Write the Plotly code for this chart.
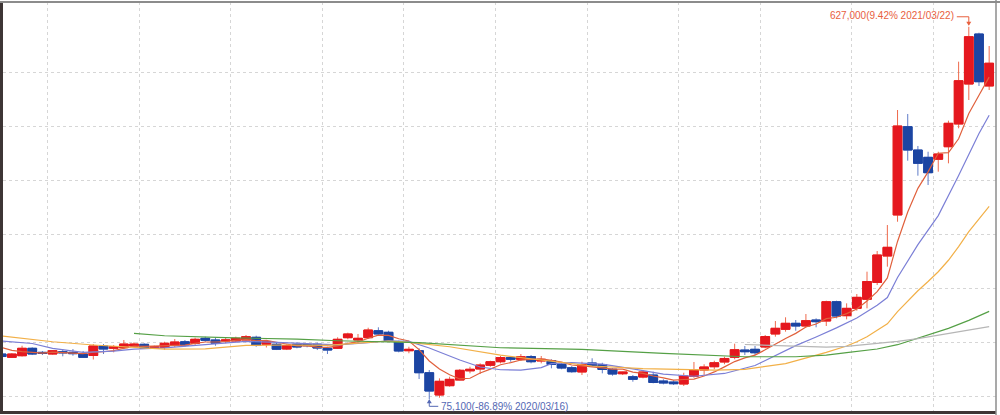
import pandas as pd
import plotly.graph_objects as go

# ---- data (weekly candles) ----
start_date = "2019-05-27"
n_weeks = 98
dates = pd.date_range(start_date, periods=n_weeks, freq="7D")

open_ = [142200, 137300, 139700, 150700, 144700, 142200, 145600, 144700, 142200, 140000,
         154100, 150700, 151600, 154100, 156600, 150700, 151900, 155600, 160400, 158100,
         165500, 163000, 161500, 161500, 163000, 167000, 156600, 156700, 149600, 156700,
         156300, 156700, 150700, 150700, 166400, 163000, 166400, 176700, 174400, 159600,
         147100, 147100, 114500, 81500, 95300, 103700, 117300, 120000, 125500, 130800,
         137000, 134400, 138500, 131900, 132300, 127000, 121900, 115600, 128900, 126700,
         119600, 113000, 108600, 108100, 111100, 102200, 100700, 97800, 109200, 118500,
         123400, 130400, 137300, 148100, 149200, 152600, 171900, 178800, 187700, 183700,
         192600, 191100, 219700, 199000, 209900, 223300, 248200, 287400, 348200, 479000,
         444400, 433600, 430700, 449300, 483000, 542200, 616300, 539300]
high = [143700, 143700, 154500, 152100, 146700, 148100, 149600, 149600, 146700, 157000,
        157000, 155600, 163000, 159600, 158100, 154500, 160400, 164400, 163000, 166400,
        167900, 166400, 166400, 167900, 170400, 169300, 163000, 159000, 156600, 159600,
        158100, 159000, 153000, 167000, 173800, 171900, 181200, 181800, 176700, 161900,
        153000, 150700, 118500, 106200, 108600, 120000, 123400, 128400, 132300, 139300,
        139300, 142200, 140700, 139300, 134400, 129300, 124400, 130800, 135900, 129300,
        121000, 116000, 111100, 118500, 116000, 104700, 103300, 114500, 130400, 127000,
        132300, 138200, 157500, 154100, 154100, 170400, 191100, 196600, 192600, 201500,
        195100, 221200, 221200, 217300, 231100, 264200, 294800, 333300, 503700, 497800,
        450400, 441900, 441900, 487900, 575300, 627000, 618200, 598500]
low = [137800, 136300, 138500, 140700, 140700, 141200, 138800, 139700, 136300, 134100,
       142200, 144700, 149200, 152100, 149600, 149600, 148600, 152600, 153000, 155600,
       160400, 154500, 158100, 159600, 159600, 153000, 151900, 148100, 148100, 150700,
       152100, 148100, 142200, 149600, 164000, 158100, 164400, 170400, 160400, 144700,
       143300, 105200, 75100, 77500, 93800, 103300, 113600, 112600, 123400, 128400,
       130800, 131900, 128400, 128400, 121000, 119600, 114500, 111100, 123400, 113600,
       110100, 111100, 101200, 106200, 98800, 97300, 96300, 94800, 107100, 111100,
       119600, 127000, 134400, 140700, 140700, 150700, 167900, 175300, 176700, 181800,
       181800, 183700, 195100, 193600, 206400, 209900, 244400, 271600, 338200, 428600,
       406400, 392600, 412300, 424700, 476600, 518500, 539300, 533300]
close = [138500, 142200, 150700, 142200, 143300, 147100, 144100, 142700, 137300, 154100,
         149600, 153000, 157000, 157000, 150700, 153000, 158100, 160000, 155600, 164000,
         162500, 158100, 163000, 165500, 167900, 154800, 160700, 149300, 154800, 152600,
         154500, 151100, 148100, 164000, 171900, 165500, 177800, 171900, 161900, 146700,
         149200, 114500, 87400, 101800, 104700, 118100, 119600, 125900, 130800, 137000,
         134400, 138200, 130800, 134400, 126700, 121500, 116000, 126700, 124900, 119300,
         112600, 115600, 104700, 115600, 100000, 99300, 98200, 109600, 118500, 123000,
         129300, 135600, 148600, 145600, 144100, 168100, 180300, 187700, 183700, 191600,
         190100, 219700, 198500, 209900, 226200, 249600, 288900, 300300, 480000, 444400,
         424700, 410800, 438500, 484000, 547100, 612300, 545600, 573000]

# moving-average lines (at candle indices)
ma5_idx = list(range(0, 98))
ma5_val = [151900, 147500, 145900, 145000, 143400, 145100, 144500, 143900, 142900, 145100,
           145600, 147300, 150200, 154100, 153500, 154100, 155200, 155800, 155500, 158100,
           160000, 160000, 160600, 162600, 163400, 161900, 162400, 159600, 157500, 154400,
           154400, 152500, 152200, 154100, 157900, 160100, 165500, 170200, 169800, 164800,
           161500, 148800, 131900, 119900, 111500, 105300, 106300, 114000, 119800, 126300,
           129500, 133300, 134200, 135000, 132900, 130300, 125900, 125100, 123200, 121700,
           119900, 119800, 115400, 113600, 109700, 107000, 103600, 104500, 105100, 109700,
           115700, 123200, 131000, 136400, 140600, 148400, 157300, 165200, 172800, 182300,
           186700, 194600, 196700, 202000, 208900, 220800, 234600, 255000, 309000, 352600,
           387700, 412000, 439700, 440500, 461000, 498500, 525500, 552400]

ma10_idx = [0, 3, 5, 8, 11, 13, 16, 20, 24, 27, 30, 33, 36, 38, 40, 42, 45, 47, 49, 51,
            53, 54, 56, 59, 62, 65, 68, 71, 74, 76, 78, 80, 82, 84, 86, 87, 88, 90, 92, 94,
            96, 97]
ma10_val = [161500, 157800, 150700, 144700, 146500, 149500, 151400, 156500, 160800, 159500,
            158100, 155800, 159000, 161900, 160800, 151100, 133400, 123000, 118900, 118500,
            122000, 128000, 129600, 127300, 120200, 112500, 109300, 113400, 125200, 140300,
            154600, 167500, 180900, 195600, 214600, 225900, 255500, 304200, 347300, 406800,
            468800, 496000]

ma20_idx = [0, 5, 9, 13, 16, 20, 24, 28, 32, 36, 38, 40, 44, 49, 54, 58, 63, 66, 70, 73,
            77, 81, 83, 84, 85, 86, 87, 88, 89, 90, 91, 92, 93, 94, 95, 96, 97]
ma20_val = [168900, 160400, 155600, 152600, 149500, 149800, 155000, 155600, 155000, 159500,
            161500, 159500, 153000, 140500, 131500, 124500, 120700, 120000, 118500, 119600,
            128000, 144700, 154100, 160400, 167900, 177400, 187000, 205000, 221100, 235900,
            249600, 264100, 281100, 301200, 323400, 341700, 360900]

ma60_idx = [13, 16, 22, 26, 29, 33, 41, 49, 57, 65, 73, 78, 81, 83, 86, 88, 90, 93, 95, 97]
ma60_val = [172900, 169300, 166400, 165500, 164400, 161900, 159000, 151500, 149200, 143300,
            138200, 138200, 140700, 144200, 149600, 156000, 165500, 180300, 192000, 205400]

ma120_idx = [73, 77, 81, 83, 86, 88, 90, 93, 95, 97]
ma120_val = [156300, 154000, 152400, 153400, 157400, 161000, 165000, 172900, 177500, 182800]

grid_values = [80000, 160000, 240000, 320000, 400000, 480000, 560000]

# ---- styles ----
RED, BLUE = "#e5181f", "#1c45a2"
RED_WICK, BLUE_WICK = "#ef6a4c", "#5f7cc8"
MA_STYLE = [("MA5", ma5_idx, ma5_val, "#e0603c"),
            ("MA10", ma10_idx, ma10_val, "#7b7fd6"),
            ("MA20", ma20_idx, ma20_val, "#f2b048"),
            ("MA60", ma60_idx, ma60_val, "#55a046"),
            ("MA120", ma120_idx, ma120_val, "#b6b6b6")]

fig = go.Figure()

# wicks (full range)
fig.add_trace(go.Candlestick(
    x=dates, open=open_, high=high, low=low, close=close,
    increasing=dict(line=dict(color=RED_WICK, width=1), fillcolor=RED),
    decreasing=dict(line=dict(color=BLUE_WICK, width=1), fillcolor=BLUE),
    whiskerwidth=0, hoverinfo="skip", name="wick"))
# solid bodies on top
body_hi = [max(o, c) for o, c in zip(open_, close)]
body_lo = [min(o, c) for o, c in zip(open_, close)]
fig.add_trace(go.Candlestick(
    x=dates, open=open_, high=body_hi, low=body_lo, close=close,
    increasing=dict(line=dict(color=RED, width=1), fillcolor=RED),
    decreasing=dict(line=dict(color=BLUE, width=1), fillcolor=BLUE),
    whiskerwidth=0, name="price"))

for name, idx, vals, col in MA_STYLE:
    fig.add_trace(go.Scatter(x=[dates[i] for i in idx], y=vals, mode="lines",
                             line=dict(color=col, width=1.2), name=name,
                             hoverinfo="skip"))

# month grid: first week of odd months, drawn between candles
grid_x = []
for k in range(1, len(dates)):
    if dates[k].month != dates[k - 1].month and dates[k].month % 2 == 1:
        grid_x.append(dates[k] - pd.Timedelta(hours=84))

# max / min markers
last_close = close[-1]
imax = high.index(max(high))
imin = low.index(min(low))
pmax = (high[imax] / last_close - 1) * 100
pmin = (low[imin] / last_close - 1) * 100
txt_max = f"{high[imax]:,}({pmax:.2f}% {dates[imax]:%Y/%m/%d})"
txt_min = f"{low[imin]:,}({pmin:.2f}% {dates[imin]:%Y/%m/%d})"
COL_MAX, COL_MIN = "#e8603e", "#5468b4"
FONT = "Liberation Sans, Arial, sans-serif"

shapes = []
def pix_line(xa, ya, x0, y0, x1, y1, col):
    shapes.append(dict(type="line", xref="x", yref="y", xsizemode="pixel", ysizemode="pixel",
                       xanchor=xa, yanchor=ya, x0=x0, y0=y0, x1=x1, y1=y1,
                       line=dict(color=col, width=1)))

xa = dates[imax]; ya = high[imax]
pix_line(xa, ya, -12, 10, 0, 10, COL_MAX)
pix_line(xa, ya, 0, 10, 0, 2, COL_MAX)
shapes.append(dict(type="path", xref="x", yref="y", xsizemode="pixel", ysizemode="pixel",
                   xanchor=xa, yanchor=ya, path="M -2.5 5 L 2.5 5 L 0 1 Z",
                   fillcolor=COL_MAX, line=dict(color=COL_MAX, width=0)))
xb = dates[imin]; yb = low[imin]
pix_line(xb, yb, 0, -1, 0, -7, COL_MIN)
pix_line(xb, yb, 0, -7, 9, -7, COL_MIN)
shapes.append(dict(type="path", xref="x", yref="y", xsizemode="pixel", ysizemode="pixel",
                   xanchor=xb, yanchor=yb, path="M -2.5 -4 L 2.5 -4 L 0 0 Z",
                   fillcolor=COL_MIN, line=dict(color=COL_MIN, width=0)))

# frame: top and right thin gray
shapes.append(dict(type="line", xref="paper", yref="paper", x0=-0.01, x1=1.01, y0=1, y1=1,
                   line=dict(color="#8c8c8c", width=2), layer="above"))
shapes.append(dict(type="line", xref="paper", yref="paper", x0=1, x1=1, y0=-0.01, y1=1.01,
                   line=dict(color="#8c8c8c", width=1.5), layer="above"))

annotations = [
    dict(x=xa, y=ya, xref="x", yref="y", text=txt_max, showarrow=False,
         xanchor="right", yanchor="middle", xshift=-13, yshift=11,
         font=dict(family=FONT, size=10, color=COL_MAX)),
    dict(x=xb, y=yb, xref="x", yref="y", text=txt_min, showarrow=False,
         xanchor="left", yanchor="middle", xshift=10, yshift=-7,
         font=dict(family=FONT, size=10, color=COL_MIN)),
]

fig.update_layout(
    width=1000, height=415,
    margin=dict(l=3, r=4, t=2, b=4),
    paper_bgcolor="white", plot_bgcolor="white",
    showlegend=False, boxgap=0.14, boxgroupgap=0,
    shapes=shapes, annotations=annotations,
    hovermode=False,
)
fig.update_xaxes(
    type="date",
    range=[dates[0] + pd.Timedelta(days=0.9), dates[-1] + pd.Timedelta(days=4.7)],
    rangeslider=dict(visible=False),
    tickmode="array", tickvals=grid_x, showticklabels=False, ticks="",
    showgrid=True, gridcolor="#d6d6d6", griddash="dot", gridwidth=1,
    zeroline=False, showline=True, linecolor="#3d3535", linewidth=3,
)
fig.update_yaxes(
    range=[57800, 663700],
    tickmode="array", tickvals=grid_values, showticklabels=False, ticks="",
    showgrid=True, gridcolor="#d6d6d6", griddash="dot", gridwidth=1,
    zeroline=False, showline=True, linecolor="#3d3535", linewidth=3,
)

fig.write_html(
    "out.html",
    config={"displayModeBar": False},
    post_script="document.documentElement.style.margin='0';document.body.style.margin='0';"
                "document.body.style.overflow='hidden';",
)
